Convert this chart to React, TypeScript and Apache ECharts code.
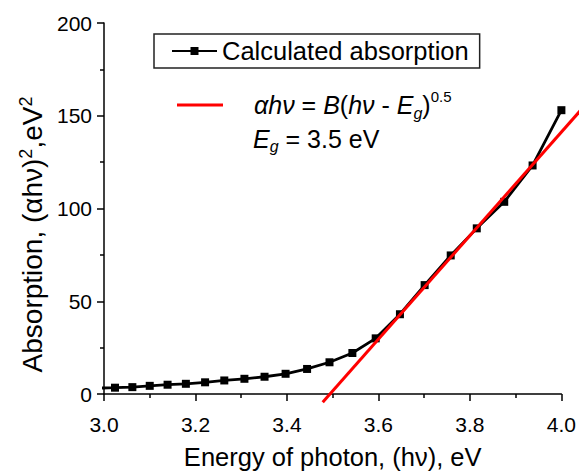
import React, { useEffect, useRef } from "react";
import * as echarts from "echarts";

// Photon energy (eV) of each measured point
const energies = [2.988, 3.024, 3.062, 3.1, 3.139, 3.179, 3.221, 3.263, 3.307, 3.351, 3.397, 3.444, 3.493, 3.543, 3.594, 3.647, 3.701, 3.758, 3.815, 3.875, 3.937, 4.0];
// (alpha h nu)^2 values, eV^2
const absorption = [3.2, 3.4, 3.7, 4.4, 5.0, 5.5, 6.3, 7.3, 8.2, 9.3, 10.9, 13.5, 17.1, 22.1, 30.0, 43.0, 58.7, 74.7, 89.3, 103.6, 123.2, 153.0];
// Linear fit (Tauc line) end points; it runs past 4.0 eV to the picture's edge
const fitEnergies = [3.477, 4.06];
const fitValues = [-2.8, 159];

const xMin = 3.0;
const xMax = 4.0;
const xStep = 0.2;
const fitAxisMax = 4.036; // energy at the right edge of the picture
const yMin = 0;
const yMax = 200;
const yStep = 50;

const seriesName = "Calculated absorption";
const fitName = "Linear fit";

const FONT = "'Liberation Sans', Arial, sans-serif";

export default function App() {
  const ref = useRef<HTMLDivElement>(null);

  useEffect(() => {
    document.body.style.margin = "0";
    const chart = echarts.init(ref.current!, undefined, { renderer: "svg" });
    const data = energies.map((e, i) => [e, absorption[i]]);
    const fit = fitEnergies.map((e, i) => [e, fitValues[i]]);
    const tickLine = { color: "#000", width: 1.5 };

    chart.setOption({
      animation: false,
      backgroundColor: "#fff",
      textStyle: { fontFamily: FONT },
      grid: [
        { left: 104, right: 16.5, top: 23, bottom: 78, containLabel: false },
        { left: 104, right: 0, top: 23, bottom: 78, containLabel: false },
      ],
      xAxis: [
        {
          type: "value",
          gridIndex: 0,
          min: xMin,
          max: xMax,
          interval: xStep,
          name: "Energy of photon, (hν), eV",
          nameLocation: "middle",
          nameGap: 50,
          nameTextStyle: { fontSize: 25.5, color: "#000", fontFamily: FONT },
          axisLine: { show: true, onZero: false, lineStyle: tickLine },
          axisTick: { show: true, inside: false, length: 7, lineStyle: tickLine },
          minorTick: { show: true, splitNumber: 2, length: 4, lineStyle: tickLine },
          axisLabel: {
            fontSize: 21,
            color: "#000",
            margin: 20,
            fontFamily: FONT,
            formatter: (v: number) => v.toFixed(1),
          },
          splitLine: { show: false },
        },
        {
          type: "value",
          gridIndex: 1,
          min: xMin,
          max: fitAxisMax,
          show: false,
        },
      ],
      yAxis: [
        {
          type: "value",
          gridIndex: 0,
          min: yMin,
          max: yMax,
          interval: yStep,
          name: "{n|Absorption, (αhν)}{sup|2}{n|,eV}{sup|2}",
          nameLocation: "middle",
          nameRotate: 90,
          nameGap: 55,
          nameTextStyle: {
            fontSize: 28,
            color: "#000",
            fontFamily: FONT,
            padding: [0, 52, 0, 0],
            rich: {
              n: { fontSize: 28, lineHeight: 30, fontFamily: FONT },
              sup: { fontSize: 18, lineHeight: 30, verticalAlign: "top", fontFamily: FONT },
            },
          },
          axisLine: { show: true, lineStyle: tickLine },
          axisTick: { show: true, inside: false, length: 7, lineStyle: tickLine },
          minorTick: { show: true, splitNumber: 2, length: 4, lineStyle: tickLine },
          axisLabel: { fontSize: 21, color: "#000", margin: 12, fontFamily: FONT },
          splitLine: { show: false },
        },
        {
          type: "value",
          gridIndex: 1,
          min: yMin,
          max: yMax,
          show: false,
        },
      ],
      legend: [
        {
          data: [seriesName],
          left: 154,
          top: 34,
          orient: "horizontal",
          borderColor: "#222",
          borderWidth: 1.5,
          padding: [4, 11, 4, 17],
          itemWidth: 45,
          itemHeight: 10,
          selectedMode: false,
          textStyle: { fontSize: 25.5, color: "#000", fontFamily: FONT },
        },
        {
          data: [fitName],
          left: 177,
          top: 89,
          padding: 0,
          icon: "rect",
          itemWidth: 46,
          itemHeight: 3,
          selectedMode: false,
          formatter: () =>
            "{i0|αhν}{n| = }{i|B}{n|(}{i|hν}{n| - }{i|E}{sub|g}{n|)}{sup|0.5}",
          textStyle: {
            fontSize: 25,
            color: "#000",
            fontFamily: FONT,
            rich: {
              i0: { fontSize: 25, fontStyle: "italic", lineHeight: 32, padding: [0, 0, 0, 26], fontFamily: FONT },
              i: { fontSize: 25, fontStyle: "italic", lineHeight: 32, fontFamily: FONT },
              n: { fontSize: 25, lineHeight: 32, fontFamily: FONT },
              sub: { fontSize: 16, fontStyle: "italic", lineHeight: 32, verticalAlign: "bottom", fontFamily: FONT },
              sup: { fontSize: 15, lineHeight: 32, verticalAlign: "top", fontFamily: FONT },
            },
          },
        },
      ],
      graphic: [
        {
          type: "text",
          left: 253,
          top: 126,
          style: {
            text: "{i|E}{sub|g}{n| = 3.5 eV}",
            fill: "#000",
            font: `25px ${FONT}`,
            rich: {
              i: { fontSize: 25, fontStyle: "italic", lineHeight: 32, fontFamily: FONT },
              n: { fontSize: 25, lineHeight: 32, fontFamily: FONT },
              sub: { fontSize: 16, fontStyle: "italic", lineHeight: 32, verticalAlign: "bottom", fontFamily: FONT },
            },
          },
        },
      ],
      series: [
        {
          name: seriesName,
          type: "line",
          xAxisIndex: 0,
          yAxisIndex: 0,
          data,
          symbol: "rect",
          symbolSize: 8,
          clip: true,
          itemStyle: { color: "#000" },
          lineStyle: { color: "#000", width: 2.8 },
          z: 2,
        },
        {
          name: fitName,
          type: "line",
          xAxisIndex: 1,
          yAxisIndex: 1,
          data: fit,
          symbol: "none",
          clip: false,
          itemStyle: { color: "#ff0000" },
          lineStyle: { color: "#ff0000", width: 3 },
          z: 3,
        },
      ],
    });
    return () => chart.dispose();
  }, []);

  return (
    <div
      ref={ref}
      style={{ position: "fixed", left: 0, top: 0, width: 579, height: 475 }}
    />
  );
}
